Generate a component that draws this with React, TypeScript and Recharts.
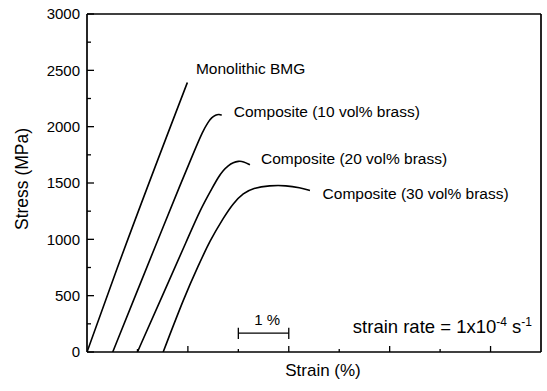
import React from "react";
import {
  Label,
  Line,
  LineChart,
  ReferenceDot,
  ReferenceLine,
  XAxis,
  YAxis
} from "recharts";

const FONT = '"Liberation Sans", Arial, Helvetica, sans-serif';

// strain in %, stress in MPa
const monolithicStrain = [0, 0.6, 1.99];
const monolithicStress = [0, 745, 2392];

const brass10Strain = [0.51, 1.0, 1.5, 1.84, 2.1, 2.3, 2.4, 2.47, 2.55, 2.62, 2.67];
const brass10Stress = [0, 545, 1100, 1475, 1755, 1965, 2040, 2080, 2105, 2110, 2102];

const brass20Strain = [1.0, 1.5, 2.0, 2.24, 2.5, 2.6, 2.7, 2.8, 2.9, 3.0, 3.1, 3.23];
const brass20Stress = [0, 505, 1010, 1260, 1470, 1550, 1612, 1655, 1682, 1694, 1692, 1662];

const brass30Strain = [1.51, 1.94, 2.2, 2.44, 2.7, 2.9, 3.1, 3.29, 3.62, 3.95, 4.22, 4.42];
const brass30Stress = [0, 500, 760, 991, 1188, 1322, 1410, 1455, 1478, 1478, 1458, 1434];

const xTicks = [0, 1, 2, 3, 4, 5, 6, 7, 8, 9];
const yTicks = [0, 250, 500, 750, 1000, 1250, 1500, 1750, 2000, 2250, 2500, 2750, 3000];

const zip = (xs: number[], ys: number[]) =>
  xs.map((strain, i) => ({ strain, stress: ys[i] }));

const series = [
  { name: "Monolithic BMG", data: zip(monolithicStrain, monolithicStress), labelAt: [2.14, 2520] },
  { name: "Composite (10 vol% brass)", data: zip(brass10Strain, brass10Stress), labelAt: [2.89, 2135] },
  { name: "Composite (20 vol% brass)", data: zip(brass20Strain, brass20Stress), labelAt: [3.43, 1720] },
  { name: "Composite (30 vol% brass)", data: zip(brass30Strain, brass30Stress), labelAt: [4.65, 1410] }
];

const YTick = (props: any) => {
  const { x, y, payload } = props;
  const major = payload.value % 500 === 0;
  return (
    <g>
      <line x1={x} x2={x + (major ? 7 : 4)} y1={y} y2={y} stroke="#000" strokeWidth={1.3} />
      {major && (
        <text x={x - 7} y={y} dy="0.36em" textAnchor="end" fontSize={15} fontFamily={FONT} fill="#000">
          {payload.value}
        </text>
      )}
    </g>
  );
};

const XTick = (props: any) => {
  const { x, y, payload } = props;
  if (payload.value === 0 || payload.value === 9) return <g />;
  const major = payload.value % 2 === 0;
  return <line x1={x} x2={x} y1={y} y2={y - (major ? 6 : 3)} stroke="#000" strokeWidth={1.3} />;
};

export default function App(): React.JSX.Element {
  return (
    <div style={{ position: "fixed", left: 0, top: 0, width: 547, height: 391, background: "#fff" }}>
      <LineChart width={547} height={391} margin={{ top: 14, right: 6, bottom: 0, left: 0 }}>
        <XAxis
          dataKey="strain"
          type="number"
          domain={[0, 9]}
          ticks={xTicks}
          tick={<XTick />}
          tickLine={false}
          tickSize={0}
          tickMargin={0}
          height={39}
          axisLine={{ stroke: "#000", strokeWidth: 1.7 }}
          allowDataOverflow
        >
          <Label
            content={(p: any) => {
              const vb = p.viewBox;
              return (
                <text x={vb.x + vb.width / 2 + 9} y={vb.y + 24} textAnchor="middle" fontSize={17} fontFamily={FONT} fill="#000">
                  Strain (%)
                </text>
              );
            }}
          />
        </XAxis>
        <YAxis
          dataKey="stress"
          type="number"
          domain={[0, 3000]}
          ticks={yTicks}
          tick={<YTick />}
          tickLine={false}
          tickSize={0}
          tickMargin={0}
          width={87}
          axisLine={{ stroke: "#000", strokeWidth: 1.7 }}
          allowDataOverflow
        >
          <Label
            content={(p: any) => {
              const vb = p.viewBox;
              const cx = 22;
              const cy = vb.y + vb.height / 2 - 4;
              return (
                <text x={cx} y={cy} transform={`rotate(-90, ${cx}, ${cy})`} textAnchor="middle" dy="0.35em" fontSize={17.5} fontFamily={FONT} fill="#000">
                  Stress (MPa)
                </text>
              );
            }}
          />
        </YAxis>
        <ReferenceLine y={3000} stroke="#000" strokeWidth={1.7} />
        <ReferenceLine x={9} stroke="#000" strokeWidth={1.7} />

        {series.map((s, i) => (
          <Line
            key={s.name}
            data={s.data}
            dataKey="stress"
            type={i === 0 ? "monotone" : "basis"}
            stroke="#000"
            strokeWidth={1.6}
            dot={false}
            isAnimationActive={false}
          />
        ))}

        {series.map((s) => (
          <ReferenceDot
            key={`lbl-${s.name}`}
            x={s.labelAt[0]}
            y={s.labelAt[1]}
            r={1}
            fill="none"
            stroke="none"
            label={{ value: s.name, position: "right", offset: 0, fontSize: 15.5, fontFamily: FONT, fill: "#000" }}
          />
        ))}

        {/* 1 % scale bar */}
        <ReferenceLine segment={[{ x: 3, y: 168 }, { x: 4, y: 168 }]} stroke="#000" strokeWidth={1.3} />
        <ReferenceLine segment={[{ x: 3, y: 115 }, { x: 3, y: 215 }]} stroke="#000" strokeWidth={1.3} />
        <ReferenceLine segment={[{ x: 4, y: 115 }, { x: 4, y: 215 }]} stroke="#000" strokeWidth={1.3} />
        <ReferenceDot
          x={3.57}
          y={240}
          r={1}
          fill="none"
          stroke="none"
          label={{ value: "1 %", position: "center", offset: 0, fontSize: 15, fontFamily: FONT, fill: "#000", dy: -5 }}
        />
        <ReferenceDot
          x={5.27}
          y={168}
          r={1}
          fill="none"
          stroke="none"
          label={{
            content: (p: any) => {
              const vb = p.viewBox;
              return (
                <text x={vb.x + vb.width / 2} y={vb.y + vb.height / 2} fontSize={18.5} fontFamily={FONT} fill="#000">
                  strain rate = 1x10
                  <tspan dy={-7} fontSize={12}>-4</tspan>
                  <tspan dy={7}> s</tspan>
                  <tspan dy={-7} fontSize={12}>-1</tspan>
                </text>
              );
            }
          }}
        />
      </LineChart>
    </div>
  );
}
